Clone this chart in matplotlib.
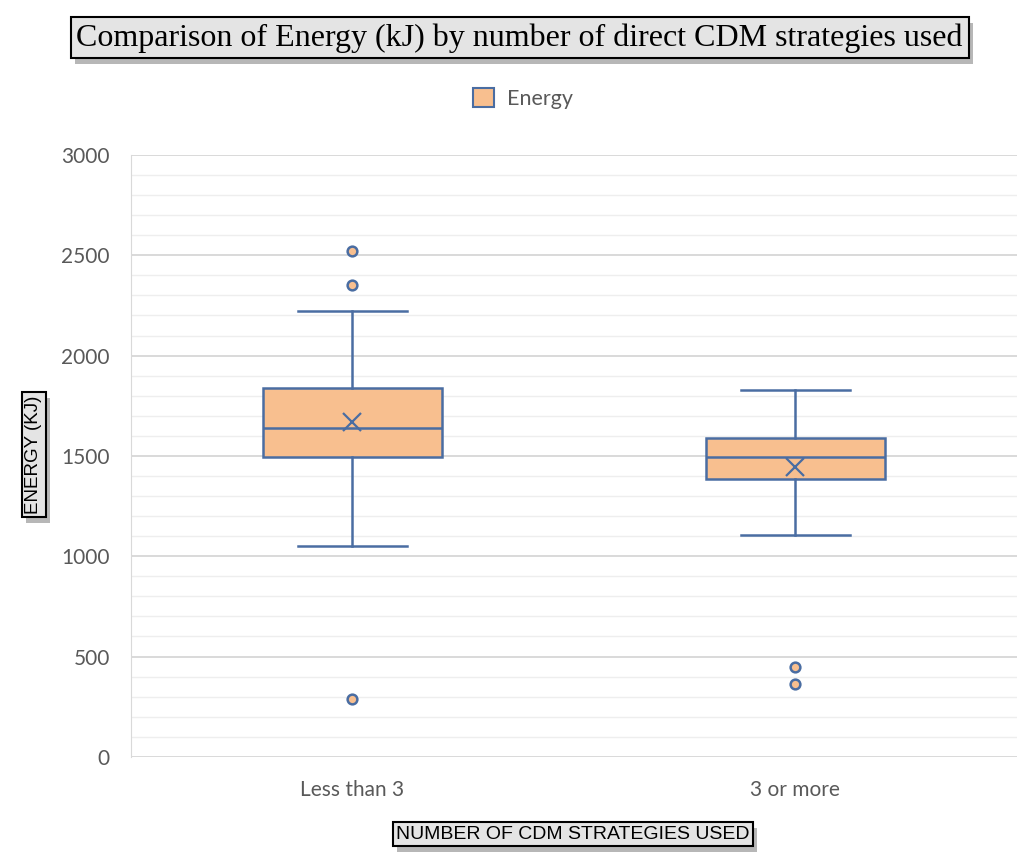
import matplotlib.pyplot as plt
import matplotlib.patheffects as pe
from matplotlib.patches import Patch
from matplotlib.ticker import MultipleLocator

# box statistics per group
groups = ["Less than 3", "3 or more"]
q1 = [1495, 1385]
medians = [1639, 1495]
q3 = [1839, 1589]
whisker_low = [1051, 1106]
whisker_high = [2222, 1829]
means = [1670, 1445]
outliers = [[2521, 2352, 289], [448, 364]]

face = "#F8BF8F"
edge = "#4A6DA2"
grey = "#595959"

fig = plt.figure(figsize=(10.21, 8.61), dpi=100)
ax = fig.add_axes([0.128, 0.121, 0.868, 0.699])

stats = []
for i in range(len(groups)):
    stats.append(dict(label=groups[i], q1=q1[i], med=medians[i], q3=q3[i],
                      whislo=whisker_low[i], whishi=whisker_high[i],
                      mean=means[i], fliers=outliers[i]))

ax.bxp(stats, positions=[1, 2], widths=0.405, showmeans=True, patch_artist=True,
       boxprops=dict(facecolor=face, edgecolor=edge, linewidth=1.8),
       medianprops=dict(color=edge, linewidth=1.8),
       whiskerprops=dict(color=edge, linewidth=1.8),
       capprops=dict(color=edge, linewidth=1.8),
       capwidths=0.245,
       meanprops=dict(marker="x", markersize=13, markeredgecolor=edge, markeredgewidth=1.6),
       flierprops=dict(marker="o", markersize=7, markerfacecolor=face,
                       markeredgecolor=edge, markeredgewidth=1.8))

ax.set_xlim(0.5, 2.5)
ax.set_ylim(0, 3000)
ax.yaxis.set_major_locator(MultipleLocator(500))
ax.yaxis.set_minor_locator(MultipleLocator(100))
ax.grid(axis="y", which="major", color="#D9D9D9", linewidth=1.4, zorder=0)
ax.grid(axis="y", which="minor", color="#EEEEEE", linewidth=1.0, zorder=0)
ax.set_axisbelow(True)
for s in ["top", "right", "bottom"]:
    ax.spines[s].set_visible(False)
ax.spines["left"].set_color("#D9D9D9")
ax.tick_params(axis="both", which="both", length=0, colors=grey, labelsize=15)
ax.tick_params(axis="y", pad=15)
ax.tick_params(axis="x", pad=17)
for lbl in ax.get_xticklabels() + ax.get_yticklabels():
    lbl.set_fontfamily("Lato")

box = dict(boxstyle="square,pad=0.18", facecolor="#E4E4E4", edgecolor="black", linewidth=1.5)
shadow = [pe.withSimplePatchShadow(offset=(3, -4), shadow_rgbFace="#888888", alpha=0.6)]

t = fig.text(0.509, 0.956, "Comparison of Energy (kJ) by number of direct CDM strategies used",
             ha="center", va="center", fontsize=23, family="Liberation Serif", bbox=box)
t.get_bbox_patch().set_path_effects(shadow)

t = fig.text(0.561, 0.031, "NUMBER OF CDM STRATEGIES USED", ha="center", va="center",
             fontsize=14, family="Liberation Sans", bbox=box)
t.get_bbox_patch().set_path_effects(shadow)

t = fig.text(0.033, 0.472, "ENERGY (KJ)", ha="center", va="center", rotation=90,
             fontsize=13.5, family="Liberation Sans", bbox=box)
t.get_bbox_patch().set_path_effects(shadow)

handles = [Patch(facecolor=face, edgecolor=edge, linewidth=1.5, label="Energy")]
leg = fig.legend(handles=handles, loc="center", bbox_to_anchor=(0.512, 0.886), frameon=False,
                 prop=dict(family="Lato", size=15.5), handlelength=1.0, handleheight=1.0,
                 handletextpad=0.6)
for txt in leg.get_texts():
    txt.set_color(grey)

fig.savefig("out.png", dpi=100)
